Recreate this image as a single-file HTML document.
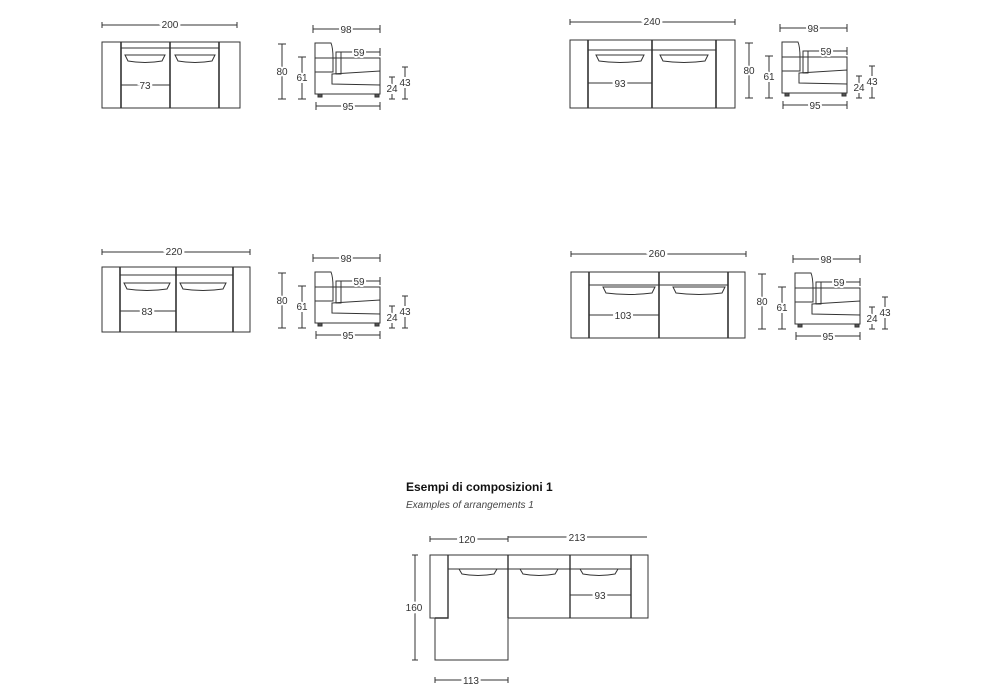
<!DOCTYPE html>
<html><head><meta charset="utf-8"><style>
html,body{margin:0;padding:0;background:#fff;}
svg{display:block;font-family:"Liberation Sans",sans-serif;}
text{font-size:10px;fill:#333;}
</style></head><body>
<svg width="1000" height="700" viewBox="0 0 1000 700" xmlns="http://www.w3.org/2000/svg">
<defs>
<g id="side" fill="none" stroke="#333" stroke-width="1">
  <path d="M315 43 L331 43 Q333 48 333 58 L333 72 L315 72 Z"/>
  <rect x="315" y="58" width="65" height="36"/>
  <path d="M332 74 L380 71 L380 85 L332 84 Z"/>
  <rect x="336" y="52" width="5" height="22"/>
  <rect x="318" y="94" width="4" height="3" fill="#555"/>
  <rect x="375" y="94" width="4" height="3" fill="#555"/>
  <path d="M313 25v8M313 29h67M380 25v8"/>
  <path d="M341 52h39M380 48v8"/>
  <path d="M278 44h8M282 44v55M278 99h8"/>
  <path d="M298 57h8M302 57v42M298 99h8"/>
  <path d="M389 77h6M392 77v22M389 99h6"/>
  <path d="M402 67h6M405 67v32M402 99h6"/>
  <path d="M316 102v8M316 106h64M380 102v8"/>
</g>
<g id="sidet">
  <text x="346" y="33" text-anchor="middle" fill="#fff" stroke="#fff" stroke-width="4">98</text>
  <text x="346" y="33" text-anchor="middle">98</text>
  <text x="359" y="56" text-anchor="middle" stroke="#fff" stroke-width="4">59</text>
  <text x="359" y="56" text-anchor="middle">59</text>
  <text x="282" y="75" text-anchor="middle" stroke="#fff" stroke-width="4">80</text>
  <text x="282" y="75" text-anchor="middle">80</text>
  <text x="302" y="81" text-anchor="middle" stroke="#fff" stroke-width="4">61</text>
  <text x="302" y="81" text-anchor="middle">61</text>
  <text x="392" y="92" text-anchor="middle" stroke="#fff" stroke-width="4">24</text>
  <text x="392" y="92" text-anchor="middle">24</text>
  <text x="405" y="86" text-anchor="middle" stroke="#fff" stroke-width="4">43</text>
  <text x="405" y="86" text-anchor="middle">43</text>
  <text x="348" y="110" text-anchor="middle" stroke="#fff" stroke-width="4">95</text>
  <text x="348" y="110" text-anchor="middle">95</text>
</g>
</defs>

<g fill="none" stroke="#333" stroke-width="1">
<rect x="102" y="42" width="138" height="66"/>
<path d="M121 42v66M170 42v66M219 42v66" stroke-width="1.6"/>
<path d="M121 48h98"/>
<path d="M125 55h40l-3 6q-17 3 -34 0z M175 55h40l-3 6q-17 3 -34 0z"/>
<path d="M102 25h135M102 22v6M237 22v6"/>
<path d="M121 85h49"/>
<rect x="570" y="40" width="165" height="68"/>
<path d="M588 40v68M652 40v68M716 40v68" stroke-width="1.6"/>
<path d="M588 50h128"/>
<path d="M596 55h48l-3 6q-21 3 -42 0z M660 55h48l-3 6q-21 3 -42 0z"/>
<path d="M570 22h165M570 19v6M735 19v6"/>
<path d="M588 83h64"/>
<rect x="102" y="267" width="148" height="65"/>
<path d="M120 267v65M176 267v65M233 267v65" stroke-width="1.6"/>
<path d="M120 275h113"/>
<path d="M124 283h46l-3 6q-20 3 -40 0z M180 283h46l-3 6q-20 3 -40 0z"/>
<path d="M102 252h148M102 249v6M250 249v6"/>
<path d="M120 311h56"/>
<rect x="571" y="272" width="174" height="66"/>
<path d="M589 272v66M659 272v66M728 272v66" stroke-width="1.6"/>
<path d="M589 285h139"/>
<path d="M603 287h52l-3 6q-23 3 -46 0z M673 287h52l-3 6q-23 3 -46 0z"/>
<path d="M571 254h175M571 251v6M746 251v6"/>
<path d="M589 315h70"/>
<path d="M430 555h218v63h-140v42h-73v-42h-5z"/>
<path d="M448 555v63h-13M508 555v63M570 555v63M631 555v63" stroke-width="1.4"/>
<path d="M448 569h183"/>
<path d="M459 569h38l-3 5q-16 3 -32 0z M520 569h38l-3 5q-16 3 -32 0z M580 569h38l-3 5q-16 3 -32 0z"/>
<path d="M430 539h78M430 536v6M508 536v6M508 537h139"/>
<path d="M415 555v105M412 555h6M412 660h6"/>
<path d="M435 680h73M435 677v6M508 677v6"/>
<path d="M570 595h61"/>
</g>
<use href="#side"/><use href="#sidet"/>
<use href="#side" transform="translate(467,-1)"/><use href="#sidet" transform="translate(467,-1)"/>
<use href="#side" transform="translate(0,229)"/><use href="#sidet" transform="translate(0,229)"/>
<use href="#side" transform="translate(480,230)"/><use href="#sidet" transform="translate(480,230)"/>

<g text-anchor="middle" font-size="10">
<text x="170" y="28" stroke="#fff" stroke-width="5">200</text><text x="170" y="28">200</text>
<text x="145" y="89" stroke="#fff" stroke-width="5">73</text><text x="145" y="89">73</text>
<text x="652" y="25" stroke="#fff" stroke-width="5">240</text><text x="652" y="25">240</text>
<text x="620" y="87" stroke="#fff" stroke-width="5">93</text><text x="620" y="87">93</text>
<text x="174" y="255" stroke="#fff" stroke-width="5">220</text><text x="174" y="255">220</text>
<text x="147" y="315" stroke="#fff" stroke-width="5">83</text><text x="147" y="315">83</text>
<text x="657" y="257" stroke="#fff" stroke-width="5">260</text><text x="657" y="257">260</text>
<text x="623" y="319" stroke="#fff" stroke-width="5">103</text><text x="623" y="319">103</text>
<text x="467" y="543" stroke="#fff" stroke-width="5">120</text><text x="467" y="543">120</text>
<text x="577" y="541" stroke="#fff" stroke-width="5">213</text><text x="577" y="541">213</text>
<text x="414" y="611" stroke="#fff" stroke-width="5">160</text><text x="414" y="611">160</text>
<text x="471" y="684" stroke="#fff" stroke-width="5">113</text><text x="471" y="684">113</text>
<text x="600" y="599" stroke="#fff" stroke-width="5">93</text><text x="600" y="599">93</text>
</g>
<text x="406" y="491" style="font-size:12px;font-weight:bold;fill:#111">Esempi di composizioni 1</text>
<text x="406" y="508" style="font-size:10px;font-style:italic;fill:#444">Examples of arrangements 1</text>
</svg>
</body></html>
